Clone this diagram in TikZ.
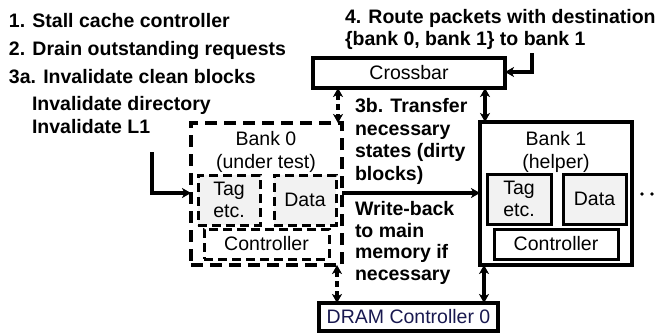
\documentclass[tikz,border=0pt]{standalone}
\usepackage{fontspec}
\setmainfont{Liberation Sans}
\usetikzlibrary{arrows.meta,calc}
\definecolor{navy}{RGB}{25,25,80}
\definecolor{lgray}{RGB}{242,242,242}
\begin{document}
\begin{tikzpicture}[x=1pt,y=-1pt,
  every node/.style={inner sep=0pt, outer sep=0pt},
  txt/.style={font=\fontsize{19.5}{22}\selectfont},
  btxt/.style={font=\fontsize{19.5}{22}\selectfont\bfseries, anchor=base west},
  sbox/.style={draw, line width=3.2pt, txt},
  dbox/.style={draw, line width=3.2pt, dash pattern=on 12pt off 7pt, txt},
  dsbox/.style={draw, line width=3pt, dash pattern=on 9pt off 5pt, txt, align=center},
  cell/.style={draw, line width=3pt, txt, align=center},
  lbl/.style={txt, anchor=base},
  tip/.style={},
  conn/.style={line width=3.2pt, -{Stealth[length=9pt,width=10pt,inset=2.5pt]}},
  dconn/.style={line width=3.2pt, {Stealth[length=9pt,width=10pt,inset=2.5pt]}-{Stealth[length=9pt,width=10pt,inset=2.5pt]}},
  ddconn/.style={dconn, dash pattern=on 6pt off 4pt}
]
\useasboundingbox (0,0) rectangle (658,333);

% left instruction list
\node[btxt] (t1) at (9,27) {1. Stall cache controller};
\node[btxt] (t2) at (9,55) {2. Drain outstanding requests};
\node[btxt] (t3) at (9,83) {3a. Invalidate clean blocks};
\node[btxt] (t3b) at (32,110) {Invalidate directory};
\node[btxt] (t3c) at (32,133) {Invalidate L1};

% top right
\node[btxt] (t4) at (345,23) {4. Route packets with destination};
\node[btxt] (t4b) at (345,45) {\{bank 0, bank 1\} to bank 1};

% crossbar
\node[sbox, minimum width=192pt, minimum height=30pt] (cb) at (409,73) {Crossbar};

% bank 0
\node[dbox, minimum width=151pt, minimum height=142pt] (b0) at (266.5,194) {};
\node[lbl] (b0l1) at (266,145) {Bank 0};
\node[lbl] (b0l2) at (266,168) {(under test)};
\node[dsbox, fill=lgray, minimum width=62pt, minimum height=50pt] (tag0) at (229,200) {Tag\\etc.};
\node[dsbox, fill=lgray, minimum width=62pt, minimum height=50pt] (data0) at (305,200) {Data};
\node[dsbox, minimum width=125pt, minimum height=30pt] (ctrl0) at (266.5,244) {Controller};

% bank 1
\node[sbox, minimum width=152pt, minimum height=143pt] (b1) at (556,193.5) {};
\node[lbl] (b1l1) at (556,145) {Bank 1};
\node[lbl] (b1l2) at (556,168) {(helper)};
\node[cell, fill=lgray, minimum width=64pt, minimum height=50pt] (tag1) at (519,199) {Tag\\etc.};
\node[cell, fill=lgray, minimum width=63pt, minimum height=50pt] (data1) at (594.5,199) {Data};
\node[cell, fill=white, minimum width=124pt, minimum height=30pt] (ctrl1) at (556,244) {Controller};

% DRAM controller
\node[sbox, text=navy, minimum width=179pt, minimum height=28pt] (dram) at (408.5,317) {DRAM Controller 0};

% middle text
\node[btxt] (m1) at (355,112) {3b. Transfer};
\node[btxt] (m2) at (355,135) {necessary};
\node[btxt] (m3) at (355,157) {states (dirty};
\node[btxt] (m4) at (355,180) {blocks)};
\node[btxt] (w1) at (355,215) {Write-back};
\node[btxt] (w2) at (355,237) {to main};
\node[btxt] (w3) at (355,258) {memory if};
\node[btxt] (w4) at (355,280) {necessary};

% dots
\fill (642,194) circle (1.8pt);
\fill (652,194) circle (1.8pt);
\fill (662,194) circle (1.8pt);

% connector guide coordinates
\coordinate (xa) at (338,0);
\coordinate (xb) at (485,0);
\coordinate (xc) at (337,0);
\coordinate (xd) at (484,0);
\coordinate (ym) at (0,193);
\coordinate (la) at (152,152);
\coordinate (ra) at (532,53);
\coordinate (ry) at (0,72);

\draw[ddconn] (cb.south -| xa) -- (b0.north -| xa);
\draw[dconn] (cb.south -| xb) -- (b1.north -| xb);
\draw[ddconn] (b0.south -| xc) -- (dram.north -| xc);
\draw[dconn] (b1.south -| xd) -- (dram.north -| xd);
\draw[conn] (b0.east |- ym) -- (b1.west |- ym);
\draw[conn] (la) -- (la |- ym) -- (b0.west |- ym);
\draw[conn] (ra) -- (ra |- ry) -- (cb.east |- ry);
\end{tikzpicture}
\end{document}
